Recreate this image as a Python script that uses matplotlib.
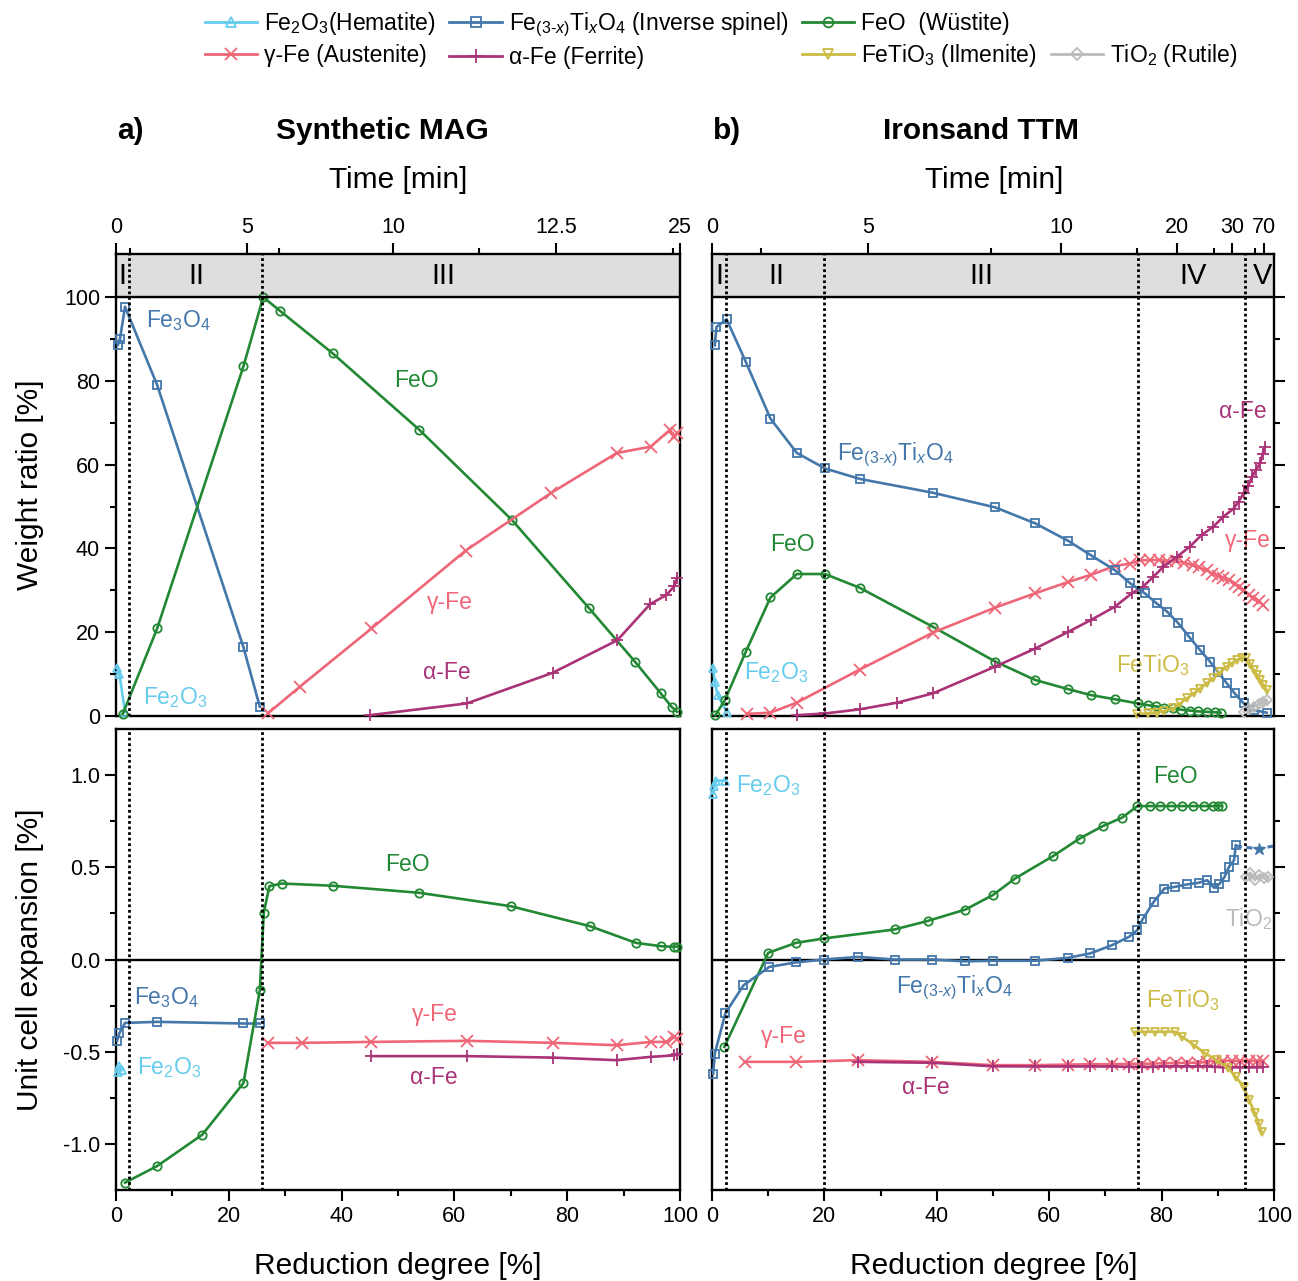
import numpy as np
import matplotlib
matplotlib.use('Agg')
import matplotlib.pyplot as plt
from matplotlib.lines import Line2D

plt.rcParams['font.family'] = ['Liberation Sans', 'DejaVu Sans']
plt.rcParams['mathtext.fontset'] = 'custom'
plt.rcParams['mathtext.rm'] = 'Liberation Sans'
plt.rcParams['mathtext.it'] = 'Liberation Sans:italic'
plt.rcParams['mathtext.bf'] = 'Liberation Sans:bold'
plt.rcParams['mathtext.default'] = 'regular'

# colours (Tol bright)
c_hem = '#66CCEE'
c_spi = '#4477AA'
c_wus = '#228833'
c_aus = '#EE6677'
c_fer = '#AA3377'
c_ilm = '#CCBB44'
c_rut = '#BBBBBB'

# ---- a) Synthetic MAG, weight ratio [%]
mag_hem_rd = [0.2, 0.6, 1.6]
mag_hem_w = [11.5, 10.0, 1.0]
mag_mag_rd = [0.3, 0.7, 1.6, 7.3, 22.6, 25.5]
mag_mag_w = [88.5, 90.0, 97.7, 79.0, 16.4, 2.2]
mag_wus_rd = [1.2, 7.3, 22.6, 26.1, 29.1, 38.4, 53.8, 70.2, 83.9, 92.0, 96.6, 98.5, 99.5]
mag_wus_w = [0.5, 20.9, 83.5, 100.0, 96.7, 86.6, 68.3, 46.8, 25.7, 13.0, 5.4, 2.2, 1.0]
mag_aus_rd = [27.0, 32.6, 45.3, 62.0, 77.2, 88.8, 94.8, 98.2, 99.0, 99.5]
mag_aus_w = [0.7, 7.0, 20.9, 39.5, 53.3, 62.8, 64.3, 68.3, 66.5, 67.5]
mag_fer_rd = [45.0, 62.2, 77.4, 88.9, 94.7, 97.6, 99.0, 99.5]
mag_fer_w = [0.2, 3.0, 10.3, 18.1, 26.7, 28.9, 31.0, 33.0]

# ---- b) Ironsand TTM, weight ratio [%]
ttm_hem_rd = [0.2, 0.5, 1.0, 2.6]
ttm_hem_w = [11.4, 8.0, 5.0, 1.0]
ttm_spi_rd = [0.5, 0.8, 2.6, 6.0, 10.4, 15.1, 20.1, 26.3, 39.3, 50.4, 57.5, 63.4, 67.4, 71.7,
              74.4, 77.0, 79.1, 81.0, 83.0, 84.9, 86.8, 88.6, 90.0, 91.6, 93.0, 94.6, 96.4, 98.7]
ttm_spi_w = [88.5, 92.9, 94.7, 84.6, 71.0, 62.8, 59.1, 56.6, 53.3, 49.8, 46.0, 41.8, 38.4, 34.8,
             31.7, 29.3, 26.9, 24.9, 22.1, 18.9, 15.8, 13.0, 10.6, 7.8, 5.4, 3.0, 1.4, 0.8]
ttm_wus_rd = [0.6, 2.3, 6.0, 10.4, 15.1, 20.1, 26.3, 39.3, 50.4, 57.5, 63.4, 67.4, 71.7, 75.8,
              77.5, 79.0, 80.5, 82.0, 83.5, 85.0, 86.5, 88.0, 89.5, 90.5]
ttm_wus_w = [0.2, 3.8, 15.3, 28.3, 33.9, 33.9, 30.6, 21.3, 13.0, 8.6, 6.4, 5.0, 4.0, 3.0,
             2.6, 2.3, 2.0, 1.8, 1.5, 1.3, 1.1, 1.0, 0.9, 0.8]
ttm_aus_rd = [6.2, 10.4, 15.1, 26.3, 39.3, 50.4, 57.5, 63.4, 67.4, 71.7, 74.4, 76.2, 78.0, 79.5,
              81.0, 82.5, 84.0, 85.5, 86.6, 88.0, 89.0, 90.0, 91.0, 92.0, 93.0, 93.8, 94.6, 95.5,
              96.2, 97.3, 98.0]
ttm_aus_w = [0.5, 0.8, 3.2, 11.1, 19.9, 25.9, 29.3, 32.0, 33.7, 35.8, 36.4, 37.2, 37.2, 37.3,
             37.0, 37.0, 36.6, 36.0, 35.5, 34.8, 34.0, 33.5, 33.0, 32.5, 31.5, 30.8, 30.0, 29.0,
             28.2, 27.5, 26.5]
ttm_fer_rd = [15.1, 20.1, 26.3, 33.0, 39.3, 50.4, 57.5, 63.4, 67.4, 71.7, 74.7, 76.7, 78.5, 80.3,
              82.7, 85.0, 87.1, 89.2, 91.0, 92.8, 93.7, 94.6, 95.4, 96.1, 96.8, 97.5, 98.0, 98.4]
ttm_fer_w = [0.2, 0.6, 1.6, 3.2, 5.4, 11.8, 16.1, 20.1, 22.9, 26.1, 29.3, 30.9, 33.2, 35.6,
             38.0, 40.4, 43.2, 45.2, 47.6, 49.5, 51.2, 53.2, 55.0, 57.1, 58.8, 60.3, 62.5, 64.3]
ttm_ilm_rd = [75.6, 77.5, 79.1, 80.5, 82.1, 83.3, 84.5, 85.7, 86.8, 88.0, 89.2, 90.4, 91.6, 92.5,
              93.4, 94.3, 95.1, 95.8, 96.4, 97.0, 97.5, 98.1, 98.7]
ttm_ilm_w = [0.5, 0.6, 0.8, 1.2, 1.8, 3.0, 4.2, 5.4, 6.5, 7.8, 9.0, 10.4, 11.8, 12.6,
             13.4, 13.8, 13.8, 12.4, 10.9, 9.8, 8.6, 7.4, 6.2]
ttm_rut_rd = [94.6, 95.5, 96.4, 97.3, 98.0, 98.7]
ttm_rut_w = [1.0, 1.6, 2.2, 2.8, 3.3, 3.8]

# ---- a) Synthetic MAG, unit cell expansion [%]
mag_hem_ex_rd = [0.3, 0.6, 1.0]
mag_hem_ex = [-0.61, -0.58, -0.60]
mag_mag_ex_rd = [0.2, 0.6, 1.6, 7.3, 22.6, 25.5]
mag_mag_ex = [-0.44, -0.40, -0.344, -0.338, -0.347, -0.347]
mag_wus_ex_rd = [1.6, 7.3, 15.3, 22.6, 25.5, 26.2, 27.2, 29.4, 38.4, 53.7, 70.0, 84.0, 92.2, 96.7, 99.0, 99.5]
mag_wus_ex = [-1.21, -1.12, -0.95, -0.67, -0.166, 0.253, 0.398, 0.412, 0.40, 0.362, 0.289, 0.181,
              0.09, 0.072, 0.069, 0.07]
mag_aus_ex_rd = [27.0, 32.9, 45.3, 62.2, 77.5, 88.8, 94.8, 97.6, 99.0, 99.5]
mag_aus_ex = [-0.452, -0.452, -0.447, -0.441, -0.452, -0.465, -0.447, -0.447, -0.42, -0.43]
mag_fer_ex_rd = [45.3, 62.2, 77.5, 88.8, 94.8, 99.0, 99.5]
mag_fer_ex = [-0.524, -0.524, -0.532, -0.546, -0.528, -0.52, -0.51]

# ---- b) Ironsand TTM, unit cell expansion [%]
ttm_hem_ex_rd = [0.2, 0.4, 0.8, 2.4]
ttm_hem_ex = [0.90, 0.94, 0.97, 0.97]
ttm_spi_ex_rd = [0.2, 0.5, 2.4, 5.6, 10.2, 14.9, 19.9, 26.0, 32.5, 39.1, 45.0, 50.0, 57.4, 63.3,
                 67.3, 71.2, 74.2, 75.7, 76.6, 78.6, 80.5, 82.4, 84.5, 86.6, 88.1, 89.3, 90.3,
                 91.2, 92.0, 92.9, 93.2]
ttm_spi_ex = [-0.62, -0.51, -0.29, -0.14, -0.04, -0.016, 0.0, 0.014, 0.0, 0.0, -0.01, -0.007,
              -0.007, 0.009, 0.033, 0.078, 0.123, 0.16, 0.217, 0.313, 0.385, 0.394, 0.407, 0.416,
              0.43, 0.39, 0.41, 0.448, 0.503, 0.539, 0.62]
ttm_spi_tail_rd = [93.2, 97.3, 99.8]
ttm_spi_tail_ex = [0.615, 0.60, 0.615]
ttm_wus_ex_rd = [2.2, 10.0, 14.9, 19.9, 32.5, 38.5, 45.1, 50.0, 53.9, 60.7, 65.4, 69.5, 73.0, 75.7,
                 78.0, 79.8, 81.7, 83.6, 85.6, 87.5, 89.2, 90.0, 90.7]
ttm_wus_ex = [-0.474, 0.036, 0.09, 0.114, 0.163, 0.21, 0.271, 0.35, 0.439, 0.561, 0.656, 0.723,
              0.77, 0.832, 0.832, 0.832, 0.832, 0.832, 0.832, 0.832, 0.832, 0.832, 0.832]
ttm_aus_ex_rd = [5.8, 14.9, 26.0, 39.1, 50.0, 57.4, 63.3, 67.3, 71.2, 74.2, 76.5, 78.5, 80.5, 82.5,
                 84.5, 86.5, 88.0, 89.5, 91.0, 92.5, 94.0, 95.5, 97.0, 98.0]
ttm_aus_ex = [-0.555, -0.555, -0.546, -0.555, -0.573, -0.573, -0.57, -0.568, -0.568, -0.566,
              -0.565, -0.565, -0.562, -0.562, -0.56, -0.56, -0.555, -0.55, -0.55, -0.548, -0.55,
              -0.548, -0.55, -0.55]
ttm_fer_ex_rd = [26.0, 39.1, 50.0, 57.4, 63.3, 67.3, 71.2, 74.2, 76.5, 78.5, 80.5, 82.5, 84.5,
                 86.5, 88.0, 89.5, 91.0, 92.5, 94.0, 95.5, 97.0, 98.0]
ttm_fer_ex = [-0.555, -0.56, -0.579, -0.58, -0.58, -0.58, -0.58, -0.582, -0.582, -0.582, -0.58,
              -0.58, -0.58, -0.58, -0.58, -0.582, -0.585, -0.585, -0.585, -0.585, -0.585, -0.585]
ttm_ilm_ex_rd = [75.3, 77.0, 78.8, 80.6, 82.4, 83.7, 85.8, 87.8, 89.8, 91.9, 93.2, 94.6, 95.6,
                 96.6, 97.3, 97.8]
ttm_ilm_ex = [-0.392, -0.392, -0.392, -0.392, -0.392, -0.42, -0.465, -0.51, -0.546, -0.59,
              -0.636, -0.69, -0.763, -0.835, -0.89, -0.935]
ttm_rut_ex_rd = [95.0, 95.8, 96.6, 97.4, 98.2, 99.0]
ttm_rut_ex = [0.45, 0.47, 0.43, 0.46, 0.44, 0.45]

# phase boundaries / time axis
mag_bounds = [2.3, 25.9]
ttm_bounds = [2.5, 20.0, 75.8, 94.8]
mag_phases = ['I', 'II', 'III']
mag_phase_rd = [1.1, 14.2, 58.0]
ttm_phases = ['I', 'II', 'III', 'IV', 'V']
ttm_phase_rd = [1.25, 11.4, 48.0, 85.6, 97.9]
mag_time_rd = [0, 23.3, 49.1, 78.0, 100]
mag_time_lbl = ['0', '5', '10', '12.5', '25']
mag_time_minor = [2.5, 28.9, 64.3, 98.8]
ttm_time_rd = [0, 27.8, 62.1, 82.7, 92.5, 98.2]
ttm_time_lbl = ['0', '5', '10', '20', '30', '70']
ttm_time_minor = [8.7, 49.6, 75.6, 89.4, 96.6]

SPI = r'Fe$_{(3\text{-}\mathit{x})}$Ti$_{\mathit{x}}$O$_4$'
W, H = 1298, 1281
ANN = 16.5
LAB = 21.5


def draw(ax, rd, v, color, marker, ms=6, ls='-', z=3):
    ax.plot(rd, v, color=color, lw=1.9, ls=ls, marker=marker, ms=ms, mfc='none',
            mew=1.3, clip_on=False, zorder=z)


def style(ax, ymin, ymax, left):
    ax.set_xlim(0, 100)
    ax.set_ylim(ymin, ymax)
    for s in ax.spines.values():
        s.set_linewidth(1.7)
    ax.tick_params(which='both', direction='out', width=1.5, labelsize=15.5)
    ax.tick_params(which='major', length=8)
    ax.tick_params(which='minor', length=4.5)
    if left:
        ax.tick_params(axis='y', which='both', left=True, right=False, labelleft=True)
    else:
        ax.tick_params(axis='y', which='both', left=False, right=True, labelleft=False)


def top_panel(ax, bounds, phases, phase_rd, t_rd, t_lbl, t_minor, left):
    style(ax, 0, 110.3, left)
    ax.set_yticks([0, 20, 40, 60, 80, 100])
    ax.set_yticks([10, 30, 50, 70, 90], minor=True)
    ax.axhspan(100, 110.3, color='#dedede', zorder=0)
    ax.axhline(100, color='black', lw=1.7, zorder=5)
    ax.set_xticks(t_rd)
    ax.set_xticklabels(t_lbl)
    ax.set_xticks(t_minor, minor=True)
    ax.tick_params(axis='x', which='both', bottom=False, labelbottom=False, top=True, labeltop=True)
    for b in bounds:
        ax.axvline(b, color='black', lw=2, ls=(0, (1, 1)), zorder=4)
    for p, x in zip(phases, phase_rd):
        ax.text(x, 105.15, p, ha='center', va='center', fontsize=21, zorder=6)


def bottom_panel(ax, bounds, left):
    style(ax, -1.25, 1.25, left)
    ax.set_yticks([-1.0, -0.5, 0.0, 0.5, 1.0])
    ax.set_yticklabels(['-1.0', '-0.5', '0.0', '0.5', '1.0'])
    ax.set_yticks([-0.75, -0.25, 0.25, 0.75], minor=True)
    ax.set_xticks([0, 20, 40, 60, 80, 100])
    ax.set_xticks([10, 30, 50, 70, 90], minor=True)
    ax.axhline(0, color='black', lw=1.7, zorder=2)
    for b in bounds:
        ax.axvline(b, color='black', lw=2, ls=(0, (1, 1)), zorder=4)


fig = plt.figure(figsize=(W / 100, H / 100), dpi=100)
axA = fig.add_axes([116 / W, 1 - 716 / H, 564 / W, 462 / H])
axB = fig.add_axes([712 / W, 1 - 716 / H, 562 / W, 462 / H])
axC = fig.add_axes([116 / W, 1 - 1190 / H, 564 / W, 461 / H])
axD = fig.add_axes([712 / W, 1 - 1190 / H, 562 / W, 461 / H])

top_panel(axA, mag_bounds, mag_phases, mag_phase_rd, mag_time_rd, mag_time_lbl, mag_time_minor, True)
top_panel(axB, ttm_bounds, ttm_phases, ttm_phase_rd, ttm_time_rd, ttm_time_lbl, ttm_time_minor, False)
bottom_panel(axC, mag_bounds, True)
bottom_panel(axD, ttm_bounds, False)

# a) weight
draw(axA, mag_hem_rd, mag_hem_w, c_hem, '^')
draw(axA, mag_mag_rd, mag_mag_w, c_spi, 's')
draw(axA, mag_wus_rd, mag_wus_w, c_wus, 'o')
draw(axA, mag_aus_rd, mag_aus_w, c_aus, 'x', ms=8)
draw(axA, mag_fer_rd, mag_fer_w, c_fer, '+', ms=9)
axA.text(11, 94.5, 'Fe$_3$O$_4$', color=c_spi, fontsize=ANN, ha='center', va='center')
axA.text(10.5, 4.5, 'Fe$_2$O$_3$', color=c_hem, fontsize=ANN, ha='center', va='center')
axA.text(53.2, 80.2, 'FeO', color=c_wus, fontsize=ANN, ha='center', va='center')
axA.text(59.2, 27.2, 'γ-Fe', color=c_aus, fontsize=ANN, ha='center', va='center')
axA.text(58.7, 10.3, 'α-Fe', color=c_fer, fontsize=ANN, ha='center', va='center')

# b) weight
draw(axB, ttm_hem_rd, ttm_hem_w, c_hem, '^')
draw(axB, ttm_wus_rd, ttm_wus_w, c_wus, 'o')
draw(axB, ttm_aus_rd, ttm_aus_w, c_aus, 'x', ms=8)
draw(axB, ttm_fer_rd, ttm_fer_w, c_fer, '+', ms=9)
draw(axB, ttm_spi_rd, ttm_spi_w, c_spi, 's')
draw(axB, ttm_ilm_rd, ttm_ilm_w, c_ilm, 'v')
draw(axB, ttm_rut_rd, ttm_rut_w, c_rut, 'D', ms=5)
axB.text(32.6, 62.3, SPI, color=c_spi, fontsize=ANN, ha='center', va='center')
axB.text(14.4, 41, 'FeO', color=c_wus, fontsize=ANN, ha='center', va='center')
axB.text(11.4, 10.3, 'Fe$_2$O$_3$', color=c_hem, fontsize=ANN, ha='center', va='center')
axB.text(94.5, 72.8, 'α-Fe', color=c_fer, fontsize=ANN, ha='center', va='center')
axB.text(95.4, 42, 'γ-Fe', color=c_aus, fontsize=ANN, ha='center', va='center')
axB.text(78.5, 12.2, 'FeTiO$_3$', color=c_ilm, fontsize=ANN, ha='center', va='center')

# a) expansion
draw(axC, mag_hem_ex_rd, mag_hem_ex, c_hem, '^')
draw(axC, mag_mag_ex_rd, mag_mag_ex, c_spi, 's')
draw(axC, mag_wus_ex_rd, mag_wus_ex, c_wus, 'o')
draw(axC, mag_aus_ex_rd, mag_aus_ex, c_aus, 'x', ms=8)
draw(axC, mag_fer_ex_rd, mag_fer_ex, c_fer, '+', ms=9)
axC.text(51.6, 0.514, 'FeO', color=c_wus, fontsize=ANN, ha='center', va='center')
axC.text(9.0, -0.205, 'Fe$_3$O$_4$', color=c_spi, fontsize=ANN, ha='center', va='center')
axC.text(9.4, -0.584, 'Fe$_2$O$_3$', color=c_hem, fontsize=ANN, ha='center', va='center')
axC.text(56.6, -0.297, 'γ-Fe', color=c_aus, fontsize=ANN, ha='center', va='center')
axC.text(56.4, -0.638, 'α-Fe', color=c_fer, fontsize=ANN, ha='center', va='center')

# b) expansion
draw(axD, ttm_hem_ex_rd, ttm_hem_ex, c_hem, '^')
draw(axD, ttm_wus_ex_rd, ttm_wus_ex, c_wus, 'o')
draw(axD, ttm_aus_ex_rd, ttm_aus_ex, c_aus, 'x', ms=8)
draw(axD, ttm_fer_ex_rd, ttm_fer_ex, c_fer, '+', ms=9)
draw(axD, ttm_spi_ex_rd, ttm_spi_ex, c_spi, 's')
axD.plot(ttm_spi_tail_rd, ttm_spi_tail_ex, color=c_spi, lw=2.2, ls=(0, (2, 1.5)), clip_on=False)
axD.plot(ttm_spi_tail_rd[1:2], ttm_spi_tail_ex[1:2], color=c_spi, marker='*', ms=9, ls='none')
draw(axD, ttm_ilm_ex_rd, ttm_ilm_ex, c_ilm, 'v')
draw(axD, ttm_rut_ex_rd, ttm_rut_ex, c_rut, 'D', ms=5)
axD.text(10, 0.946, 'Fe$_2$O$_3$', color=c_hem, fontsize=ANN, ha='center', va='center')
axD.text(82.4, 0.995, 'FeO', color=c_wus, fontsize=ANN, ha='center', va='center')
axD.text(95.4, 0.222, 'TiO$_2$', color=c_rut, fontsize=ANN, ha='center', va='center')
axD.text(43.2, -0.151, SPI, color=c_spi, fontsize=ANN, ha='center', va='center')
axD.text(83.8, -0.222, 'FeTiO$_3$', color=c_ilm, fontsize=ANN, ha='center', va='center')
axD.text(12.8, -0.416, 'γ-Fe', color=c_aus, fontsize=ANN, ha='center', va='center')
axD.text(38.1, -0.692, 'α-Fe', color=c_fer, fontsize=ANN, ha='center', va='center')

# titles and axis labels
fig.text(130 / W, 1 - 131 / H, 'a)', fontsize=LAB, fontweight='bold', ha='center', va='center')
fig.text(382 / W, 1 - 131 / H, 'Synthetic MAG', fontsize=LAB, fontweight='bold', ha='center', va='center')
fig.text(727 / W, 1 - 131 / H, 'b)', fontsize=LAB, fontweight='bold', ha='center', va='center')
fig.text(981 / W, 1 - 131 / H, 'Ironsand TTM', fontsize=LAB, fontweight='bold', ha='center', va='center')
fig.text(398 / W, 1 - 180 / H, 'Time [min]', fontsize=LAB, ha='center', va='center')
fig.text(994 / W, 1 - 180 / H, 'Time [min]', fontsize=LAB, ha='center', va='center')
fig.text(398 / W, 1 - 1266 / H, 'Reduction degree [%]', fontsize=LAB, ha='center', va='center')
fig.text(994 / W, 1 - 1266 / H, 'Reduction degree [%]', fontsize=LAB, ha='center', va='center')
fig.text(30 / W, 1 - 485 / H, 'Weight ratio [%]', fontsize=LAB, rotation=90, ha='center', va='center')
fig.text(30 / W, 1 - 960 / H, 'Unit cell expansion [%]', fontsize=LAB, rotation=90, ha='center', va='center')

# legend
def h(color, marker, ms=7):
    return Line2D([], [], color=color, lw=2, marker=marker, ms=ms, mfc='none', mew=1.3)

handles = [h(c_hem, '^'), h(c_aus, 'x', 9), h(c_spi, 's'), h(c_fer, '+', 10),
           h(c_wus, 'o'), h(c_ilm, 'v'), Line2D([], [], alpha=0), h(c_rut, 'D', 6)]
labels = ['Fe$_2$O$_3$(Hematite)', 'γ-Fe (Austenite)', SPI + ' (Inverse spinel)', 'α-Fe (Ferrite)',
          'FeO  (Wüstite)', 'FeTiO$_3$ (Ilmenite)', '', 'TiO$_2$ (Rutile)']
fig.legend(handles, labels, loc='upper center', bbox_to_anchor=(721 / W, 1.008), ncol=4,
           frameon=False, fontsize=16.5, handlelength=2.3, handletextpad=0.3,
           columnspacing=0.6, labelspacing=0.3)

fig.savefig('out.png', dpi=100)
